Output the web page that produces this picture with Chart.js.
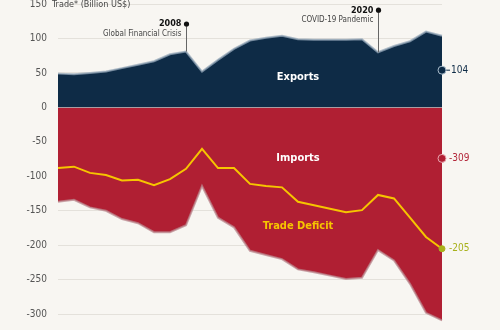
<!DOCTYPE html>
<html>
<head>
<meta charset="utf-8">
<script src="https://cdn.jsdelivr.net/npm/chart.js@4.4.1/dist/chart.umd.min.js"></script>
<style>
  html, body { margin: 0; padding: 0; background: #f8f6f2; }
  #wrap { width: 500px; height: 330px; }
</style>
</head>
<body>
<div id="wrap"><canvas id="chart"></canvas></div>
<script>
// Datos (miles de millones US$)
const years = ["2000","2001","2002","2003","2004","2005","2006","2007","2008","2009","2010","2011","2012",
               "2013","2014","2015","2016","2017","2018","2019","2020","2021","2022","2023","2024"];
const exportsData = [49, 48, 50, 52, 57, 62, 67, 77, 81, 52, 69, 85, 97, 101, 104, 99, 98, 98, 98, 99, 80, 89, 96, 110, 104];
const importsData = [-137, -134, -145, -150, -162, -168, -181, -181, -171, -114, -160, -174, -208, -214, -220,
                     -235, -239, -244, -249, -247, -207, -222, -256, -298, -309];
const deficitData = [-88, -86, -95, -98, -106, -105, -113, -104, -89, -60, -88, -88, -111, -114, -116,
                     -137, -142, -147, -152, -149, -127, -132, -160, -188, -205];
const yTicks = [150, 100, 50, 0, -50, -100, -150, -200, -250, -300];

// Eventos marcados
const eventYears  = ["2008", "2020"];
const eventTitles = ["2008", "2020"];
const eventNotes  = ["Global Financial Crisis", "COVID-19 Pandemic"];

// Colores
const NAVY = "#0e2b46", RED = "#b01f33", YELLOW = "#f6c500", OLIVE = "#a8b11c";
const FONT = "'DejaVu Sans Condensed', 'Liberation Sans Narrow', 'DejaVu Sans', sans-serif";

const annotations = {
  id: "annotations",
  afterDatasetsDraw(chart) {
    const { ctx, scales: { x, y }, chartArea } = chart;
    ctx.save();

    // línea del cero
    const y0 = Math.round(y.getPixelForValue(0)) + 0.5;
    ctx.strokeStyle = "rgba(220,215,210,0.55)";
    ctx.lineWidth = 1;
    ctx.beginPath(); ctx.moveTo(chartArea.left, y0); ctx.lineTo(chartArea.right, y0); ctx.stroke();

    // título del eje
    ctx.fillStyle = "#444";
    ctx.font = `9px ${FONT}`;
    ctx.textAlign = "left";
    ctx.textBaseline = "middle";
    ctx.fillText("Trade* (Billion US$)", 52, y.getPixelForValue(150) + 1);

    // eventos
    const dotVals = [121, 141];
    eventYears.forEach((yr, i) => {
      const idx = years.indexOf(yr);
      const px = Math.round(x.getPixelForValue(idx)) + 0.5;
      const top = y.getPixelForValue(dotVals[i]);
      const bot = y.getPixelForValue(exportsData[idx]);
      ctx.strokeStyle = "#666";
      ctx.lineWidth = 1;
      ctx.beginPath(); ctx.moveTo(px, top); ctx.lineTo(px, bot); ctx.stroke();
      ctx.fillStyle = "#111";
      ctx.beginPath(); ctx.arc(px, top, 2.6, 0, Math.PI * 2); ctx.fill();
      ctx.textAlign = "right";
      ctx.font = `bold 9px ${FONT}`;
      ctx.fillText(eventTitles[i], px - 5, top);
      ctx.fillStyle = "#444";
      ctx.font = `8px ${FONT}`;
      ctx.fillText(eventNotes[i], px - 5, top + 10);
    });

    // etiquetas de las áreas
    const cx = x.getPixelForValue(15);
    ctx.textAlign = "center";
    ctx.font = `bold 11px ${FONT}`;
    ctx.fillStyle = "#fff";
    ctx.fillText("Exports", cx, y.getPixelForValue(44));
    ctx.fillText("Imports", cx, y.getPixelForValue(-74));
    ctx.fillStyle = YELLOW;
    ctx.fillText("Trade Deficit", cx, y.getPixelForValue(-172));

    // marcadores finales
    const last = years.length - 1;
    const ex = x.getPixelForValue(last);
    const marks = [
      { v: 54,  txt: String(exportsData[last]), fill: NAVY, stroke: "#a9bccb", color: NAVY, r: 4, dash: true },
      { v: -74, txt: String(importsData[last]), fill: RED,  stroke: "#e9a7b0", color: "#b3273a", r: 4, dash: false },
      { v: deficitData[last], txt: String(deficitData[last]), fill: OLIVE, stroke: OLIVE, color: OLIVE, r: 3, dash: false }
    ];
    marks.forEach(m => {
      const py = y.getPixelForValue(m.v);
      if (m.dash) {
        ctx.strokeStyle = m.color;
        ctx.lineWidth = 1;
        ctx.beginPath(); ctx.moveTo(ex + 4, py); ctx.lineTo(ex + 8, py); ctx.stroke();
      }
      ctx.fillStyle = m.fill;
      ctx.strokeStyle = m.stroke;
      ctx.lineWidth = 1;
      ctx.beginPath(); ctx.arc(ex, py, m.r, 0, Math.PI * 2); ctx.fill(); ctx.stroke();
      ctx.fillStyle = m.color;
      ctx.textAlign = "left";
      ctx.font = `10px ${FONT}`;
      ctx.fillText(m.txt, ex + (m.dash ? 9 : 7), py);
    });

    ctx.restore();
  }
};

new Chart(document.getElementById("chart"), {
  type: "line",
  data: {
    labels: years,
    datasets: [
      { label: "Trade Deficit", data: deficitData, borderColor: YELLOW, borderWidth: 2,
        fill: false, pointRadius: 0, tension: 0, order: 0 },
      { label: "Exports", data: exportsData, borderColor: "rgba(150,168,186,0.75)", borderWidth: 2,
        backgroundColor: NAVY, fill: "origin", pointRadius: 0, tension: 0, order: 1 },
      { label: "Imports", data: importsData, borderColor: "rgba(185,135,142,0.75)", borderWidth: 2,
        backgroundColor: RED, fill: "origin", pointRadius: 0, tension: 0, order: 2 }
    ]
  },
  options: {
    responsive: true,
    maintainAspectRatio: false,
    animation: false,
    layout: { padding: { left: 0, right: 58, top: 4, bottom: 2 } },
    plugins: { legend: { display: false }, tooltip: { enabled: false } },
    scales: {
      x: { display: false },
      y: {
        min: -320, max: 150,
        afterBuildTicks: s => { s.ticks = yTicks.map(v => ({ value: v })); },
        afterFit: s => { s.width = 58; s.paddingTop = 0; s.paddingBottom = 0; },
        border: { display: false },
        grid: { color: "#e4e1db", drawTicks: false },
        ticks: { padding: 11, color: "#555", font: { size: 10, family: FONT } }
      }
    }
  },
  plugins: [annotations]
});
</script>
</body>
</html>
